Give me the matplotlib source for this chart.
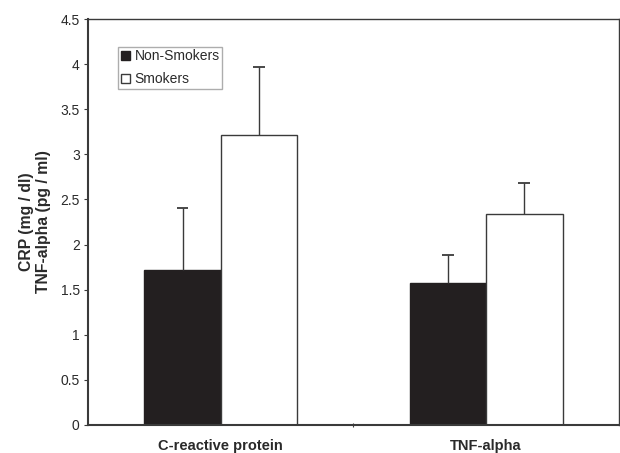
import matplotlib.pyplot as plt
import numpy as np

plt.rcParams['font.family'] = ['Liberation Sans', 'DejaVu Sans']

categories = ["C-reactive protein", "TNF-alpha"]
non_smokers = [1.72, 1.57]
non_smokers_err = [0.69, 0.31]
smokers = [3.21, 2.34]
smokers_err = [0.76, 0.34]

ink = "#2a2a2a"
line = "#3a3a3a"
x = np.arange(len(categories))
w = 0.288

fig = plt.figure(figsize=(6.2, 4.53), dpi=100)
ax = fig.add_axes([0.142, 0.062, 0.856, 0.896])

ax.bar(x - w / 2, non_smokers, w, color="#231f20", edgecolor="#231f20",
       linewidth=1, label="Non-Smokers")
ax.bar(x + w / 2, smokers, w, color="white", edgecolor=line,
       linewidth=1, label="Smokers")

# upper-only error bars
cap = 0.045
for xs, vals, errs in [(x - w / 2, non_smokers, non_smokers_err),
                       (x + w / 2, smokers, smokers_err)]:
    tops = np.array(vals) + np.array(errs)
    ax.vlines(xs, vals, tops, color=line, linewidth=1)
    ax.hlines(tops, xs - cap / 2, xs + cap / 2, color=line, linewidth=1.3)

ax.set_xlim(-0.5, 1.5)
ax.set_ylim(0, 4.5)
yt = np.arange(0, 4.51, 0.5)
ax.set_yticks(yt)
ax.set_yticklabels([f"{v:g}" for v in yt])
ax.set_xticks([0.5])
ax.set_xticklabels([""])
ax.tick_params(axis="x", length=3, direction="inout", color=line)
ax.tick_params(axis="y", length=3, direction="out", color=line,
               labelsize=10, labelcolor=ink, pad=3)
for i, c in enumerate(categories):
    ax.text(x[i], -0.235, c, ha="center", va="center", fontsize=10.5,
            fontweight="bold", color=ink)

for s in ax.spines.values():
    s.set_color(line)
    s.set_linewidth(1)
ax.spines["left"].set_linewidth(1.5)
ax.spines["bottom"].set_linewidth(1.5)

ax.set_ylabel("CRP (mg / dl)\nTNF-alpha (pg / ml)", fontsize=11.3,
              fontweight="bold", color=ink, labelpad=7, linespacing=1.1)

leg = ax.legend(loc="upper left", bbox_to_anchor=(0.056, 0.932),
                fontsize=10, frameon=True, fancybox=False,
                handlelength=0.7, handleheight=0.7, handletextpad=0.3,
                borderpad=0.2, labelspacing=0.65, borderaxespad=0)
leg.get_frame().set_edgecolor("#999999")
leg.get_frame().set_linewidth(1)
for t in leg.get_texts():
    t.set_color(ink)

fig.savefig("out.png", dpi=100)
